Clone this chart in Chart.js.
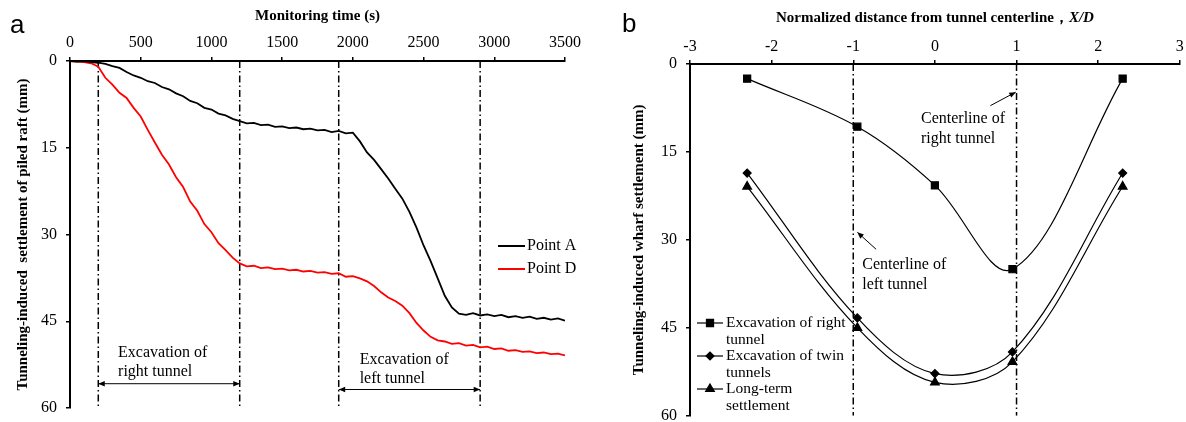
<!DOCTYPE html>
<html>
<head>
<meta charset="utf-8">
<script src="https://cdn.jsdelivr.net/npm/chart.js@4/dist/chart.umd.min.js"></script>
<style>
  body { margin: 0; background: #fff; width: 1186px; height: 422px; overflow: hidden; position: relative; }
  .box { position: absolute; top: 0; height: 422px; }
  #boxA { left: 0; width: 600px; }
  #boxB { left: 610px; width: 576px; }
</style>
</head>
<body>
<div class="box" id="boxA"><canvas id="chartA"></canvas></div>
<div class="box" id="boxB"><canvas id="chartB"></canvas></div>
<script>
// panel a: settlement vs monitoring time
const timeS = [0, 50, 100, 150, 200, 250, 300, 350, 400, 450, 500, 550, 600, 650, 700, 750, 800, 850, 900, 950,
  1000, 1050, 1100, 1150, 1200, 1250, 1300, 1350, 1400, 1450, 1500, 1550, 1600, 1650, 1700, 1750, 1800, 1850, 1900, 1950,
  2000, 2050, 2100, 2150, 2200, 2250, 2300, 2350, 2400, 2450, 2500, 2550, 2600, 2650, 2700, 2750, 2800, 2850, 2900, 2950,
  3000, 3050, 3100, 3150, 3200, 3250, 3300, 3350, 3400, 3450, 3500];
const pointA = [0.0, 0.1, 0.0, 0.2, 0.3, 0.5, 0.9, 1.2, 1.9, 2.5, 2.9, 3.5, 3.8, 4.5, 4.9, 5.6, 6.1, 6.9, 7.3, 8.1,
  8.4, 9.1, 9.4, 10.0, 10.4, 10.8, 10.7, 11.1, 11.0, 11.4, 11.3, 11.6, 11.5, 11.8, 11.7, 12.0, 11.9, 12.3, 12.1, 12.5,
  12.4, 13.9, 15.8, 17.1, 18.7, 20.3, 22.1, 23.8, 26.1, 28.8, 31.9, 34.6, 37.6, 40.6, 42.6, 43.7, 43.9, 43.6, 44.0, 43.8,
  44.1, 43.9, 44.3, 44.1, 44.4, 44.2, 44.6, 44.4, 44.7, 44.5, 44.9];
const pointD = [0.0, 0.1, 0.2, 0.4, 1.0, 2.9, 4.1, 5.5, 6.4, 8.1, 9.6, 11.9, 14.1, 16.2, 17.9, 20.1, 21.8, 24.3, 25.9, 28.2,
  29.6, 31.5, 32.7, 34.0, 35.0, 35.5, 35.4, 35.8, 35.7, 36.0, 35.9, 36.2, 36.1, 36.4, 36.3, 36.6, 36.5, 36.8, 36.7, 37.3,
  37.2, 37.6, 38.1, 38.9, 40.0, 40.9, 41.5, 42.3, 43.6, 45.3, 46.6, 47.7, 48.3, 48.5, 48.9, 48.8, 49.2, 49.1, 49.5, 49.4,
  49.8, 49.7, 50.1, 50.0, 50.3, 50.2, 50.5, 50.4, 50.7, 50.6, 50.9];
const phaseTimes = [200, 1200, 1900, 2900];

// panel b: settlement profile across the wharf
const xOverD = [-2.3, -0.95, 0, 0.95, 2.3];
const rightTunnel = [2.5, 10.7, 20.7, 35.0, 2.5];
const twinTunnels = [18.6, 43.3, 52.8, 49.1, 18.6];
const longTerm = [20.9, 45.0, 54.3, 50.8, 20.9];
const centerlines = [-1, 1];

Chart.defaults.font.family = "'Liberation Serif', 'Times New Roman', serif";
Chart.defaults.color = "#000";

const serif = "'Liberation Serif', 'Times New Roman', serif";
const dashDot = [7, 3, 1.5, 3];

function fixBox(size) {
  return (scale) => {
    if (scale.isHorizontal()) scale.height = size;
    else scale.width = size;
    scale.paddingLeft = scale.paddingRight = scale.paddingTop = scale.paddingBottom = 0;
  };
}

function axisStyle(extra) {
  return Object.assign({
    type: "linear",
    grid: { display: true, drawOnChartArea: false, drawTicks: true, tickLength: 4, color: "#000", lineWidth: 1.5 },
    border: { display: true, color: "#000", width: 2 },
  }, extra);
}

const plainTick = (v) => String(v);

function arrowHead(ctx, x1, y1, x2, y2, size) {
  const a = Math.atan2(y2 - y1, x2 - x1);
  ctx.beginPath();
  ctx.moveTo(x2, y2);
  ctx.lineTo(x2 - size * Math.cos(a - 0.4), y2 - size * Math.sin(a - 0.4));
  ctx.lineTo(x2 - size * Math.cos(a + 0.4), y2 - size * Math.sin(a + 0.4));
  ctx.closePath();
  ctx.fill();
}

function arrow(ctx, x1, y1, x2, y2, both) {
  ctx.beginPath();
  ctx.moveTo(x1, y1);
  ctx.lineTo(x2, y2);
  ctx.stroke();
  arrowHead(ctx, x1, y1, x2, y2, 7);
  if (both) arrowHead(ctx, x2, y2, x1, y1, 7);
}

const phaseSets = phaseTimes.map((t) => ({
  data: [{ x: t, y: 0 }, { x: t, y: 60 }],
  borderColor: "#000", borderWidth: 1.5, borderDash: dashDot, pointRadius: 0,
}));

const decorA = {
  id: "decorA",
  afterDraw(chart) {
    const ctx = chart.ctx;
    const xs = chart.scales.x, ys = chart.scales.y;
    ctx.save();
    ctx.fillStyle = "#000";
    ctx.strokeStyle = "#000";
    ctx.font = "26px 'Liberation Sans', Arial, sans-serif";
    ctx.textBaseline = "alphabetic";
    ctx.fillText("a", 10, 33);

    // legend
    ctx.font = "16px " + serif;
    ctx.textBaseline = "middle";
    [["Point A", "#000", 246], ["Point D", "#ff0000", 269]].forEach(([label, col, y]) => {
      ctx.strokeStyle = col;
      ctx.lineWidth = 2;
      ctx.beginPath();
      ctx.moveTo(498, y);
      ctx.lineTo(525, y);
      ctx.stroke();
      ctx.fillText(label, 527, y);
    });

    // phase annotations
    ctx.strokeStyle = "#000";
    ctx.lineWidth = 1;
    ctx.fillText("Excavation of", xs.getPixelForValue(340), ys.getPixelForValue(50.5));
    ctx.fillText("right tunnel", xs.getPixelForValue(340), ys.getPixelForValue(53.8));
    arrow(ctx, xs.getPixelForValue(200), ys.getPixelForValue(55.8), xs.getPixelForValue(1200), ys.getPixelForValue(55.8), true);
    ctx.fillText("Excavation of", xs.getPixelForValue(2048), ys.getPixelForValue(51.6));
    ctx.fillText("left tunnel", xs.getPixelForValue(2048), ys.getPixelForValue(55.0));
    arrow(ctx, xs.getPixelForValue(1900), ys.getPixelForValue(56.8), xs.getPixelForValue(2900), ys.getPixelForValue(56.8), true);
    ctx.restore();
  },
};

new Chart(document.getElementById("chartA"), {
  type: "line",
  data: {
    datasets: [
      { label: "Point A", data: timeS.map((t, i) => ({ x: t, y: pointA[i] })), borderColor: "#000", borderWidth: 1.8, pointRadius: 0, tension: 0 },
      { label: "Point D", data: timeS.map((t, i) => ({ x: t, y: pointD[i] })), borderColor: "#ff0000", borderWidth: 1.8, pointRadius: 0, tension: 0 },
      ...phaseSets,
    ],
  },
  options: {
    responsive: true,
    maintainAspectRatio: false,
    animation: false,
    layout: { padding: { left: 0, top: 0, right: 35, bottom: 14 } },
    plugins: { legend: { display: false }, tooltip: { enabled: false } },
    scales: {
      x: axisStyle({
        position: "top", min: 0, max: 3500,
        ticks: { stepSize: 500, padding: 5, maxRotation: 0, font: { size: 16 }, callback: plainTick },
        title: { display: true, text: "Monitoring time (s)", font: { size: 15, weight: "bold" }, padding: { top: 7, bottom: 0 } },
        afterFit: fixBox(61),
      }),
      y: axisStyle({
        reverse: true, min: 0, max: 60,
        ticks: { stepSize: 15, padding: 9, font: { size: 16 }, callback: plainTick },
        title: { display: true, text: "Tunneling-induced  settlement of piled raft (mm)", font: { size: 15, weight: "bold" }, padding: { top: 14, bottom: 0 } },
        afterFit: fixBox(70),
      }),
    },
  },
  plugins: [decorA],
});

const centerSets = centerlines.map((c) => ({
  data: [{ x: c, y: 0 }, { x: c, y: 60 }],
  borderColor: "#000", borderWidth: 1.5, borderDash: dashDot, pointRadius: 0,
}));

const profileStyle = { borderColor: "#000", backgroundColor: "#000", borderWidth: 1.2, pointBackgroundColor: "#000", pointBorderColor: "#000", tension: 0.35 };

const bSeries = [
  { label: "Excavation of right tunnel", lines: ["Excavation of right", "tunnel"], values: rightTunnel, pointStyle: "rect", radius: 5 },
  { label: "Excavation of twin tunnels", lines: ["Excavation of twin", "tunnels"], values: twinTunnels, pointStyle: "rectRot", radius: 4 },
  { label: "Long-term settlement", lines: ["Long-term", "settlement"], values: longTerm, pointStyle: "triangle", radius: 5 },
];

const decorB = {
  id: "decorB",
  afterDraw(chart) {
    const ctx = chart.ctx;
    const xs = chart.scales.x, ys = chart.scales.y;
    const ca = chart.chartArea;
    ctx.save();
    ctx.fillStyle = "#000";
    ctx.strokeStyle = "#000";
    ctx.font = "26px 'Liberation Sans', Arial, sans-serif";
    ctx.textBaseline = "alphabetic";
    ctx.fillText("b", 12, 32);

    // x axis title with italic X/D
    ctx.textBaseline = "middle";
    const t1 = "Normalized distance from tunnel centerline\uFF0C";
    const t2 = "X/D";
    ctx.font = "bold 15px " + serif;
    const w1 = ctx.measureText(t1).width;
    ctx.font = "italic bold 15px " + serif;
    const w2 = ctx.measureText(t2).width;
    const sx = (ca.left + ca.right) / 2 - (w1 + w2) / 2;
    ctx.font = "bold 15px " + serif;
    ctx.fillText(t1, sx, 18);
    ctx.font = "italic bold 15px " + serif;
    ctx.fillText(t2, sx + w1, 18);

    // legend
    ctx.font = "15.5px " + serif;
    const rows = [323, 356, 389];
    bSeries.forEach((s, i) => {
      const y = rows[i];
      ctx.lineWidth = 1.2;
      ctx.beginPath();
      ctx.moveTo(87, y);
      ctx.lineTo(113, y);
      ctx.stroke();
      Chart.helpers.drawPoint(ctx, { pointStyle: s.pointStyle, radius: s.radius, rotation: 0, borderWidth: 1 }, 100, y);
      ctx.fill();
      ctx.fillText(s.lines[0], 116, y);
      ctx.fillText(s.lines[1], 116, y + 17);
    });

    // centerline annotations
    ctx.font = "16px " + serif;
    ctx.lineWidth = 1;
    ctx.fillText("Centerline of", xs.getPixelForValue(-0.17), ys.getPixelForValue(9.35));
    ctx.fillText("right tunnel", xs.getPixelForValue(-0.17), ys.getPixelForValue(12.75));
    arrow(ctx, xs.getPixelForValue(0.68), ys.getPixelForValue(7.1), xs.getPixelForValue(0.99), ys.getPixelForValue(4.8), false);
    ctx.fillText("Centerline of", xs.getPixelForValue(-0.89), ys.getPixelForValue(34.2));
    ctx.fillText("left tunnel", xs.getPixelForValue(-0.89), ys.getPixelForValue(37.6));
    arrow(ctx, xs.getPixelForValue(-0.72), ys.getPixelForValue(31.6), xs.getPixelForValue(-0.95), ys.getPixelForValue(28.7), false);
    ctx.restore();
  },
};

new Chart(document.getElementById("chartB"), {
  type: "line",
  data: {
    datasets: [
      ...bSeries.map((s) => Object.assign({
        label: s.label,
        data: xOverD.map((x, i) => ({ x: x, y: s.values[i] })),
        pointStyle: s.pointStyle, pointRadius: s.radius,
      }, profileStyle)),
      ...centerSets,
    ],
  },
  options: {
    responsive: true,
    maintainAspectRatio: false,
    animation: false,
    layout: { padding: { left: 0, top: 0, right: 4, bottom: 5 } },
    plugins: { legend: { display: false }, tooltip: { enabled: false } },
    scales: {
      x: axisStyle({
        position: "top", min: -3, max: 3,
        ticks: { stepSize: 1, padding: 4, maxRotation: 0, font: { size: 16 }, callback: plainTick },
        title: { display: false },
        afterFit: fixBox(64),
      }),
      y: axisStyle({
        reverse: true, min: 0, max: 60,
        ticks: { stepSize: 15, padding: 9, font: { size: 16 }, callback: plainTick },
        title: { display: true, text: "Tunneling-induced wharf settlement (mm)", font: { size: 15, weight: "bold" }, padding: { top: 20, bottom: 0 } },
        afterFit: fixBox(80),
      }),
    },
  },
  plugins: [decorB],
});
</script>
</body>
</html>
